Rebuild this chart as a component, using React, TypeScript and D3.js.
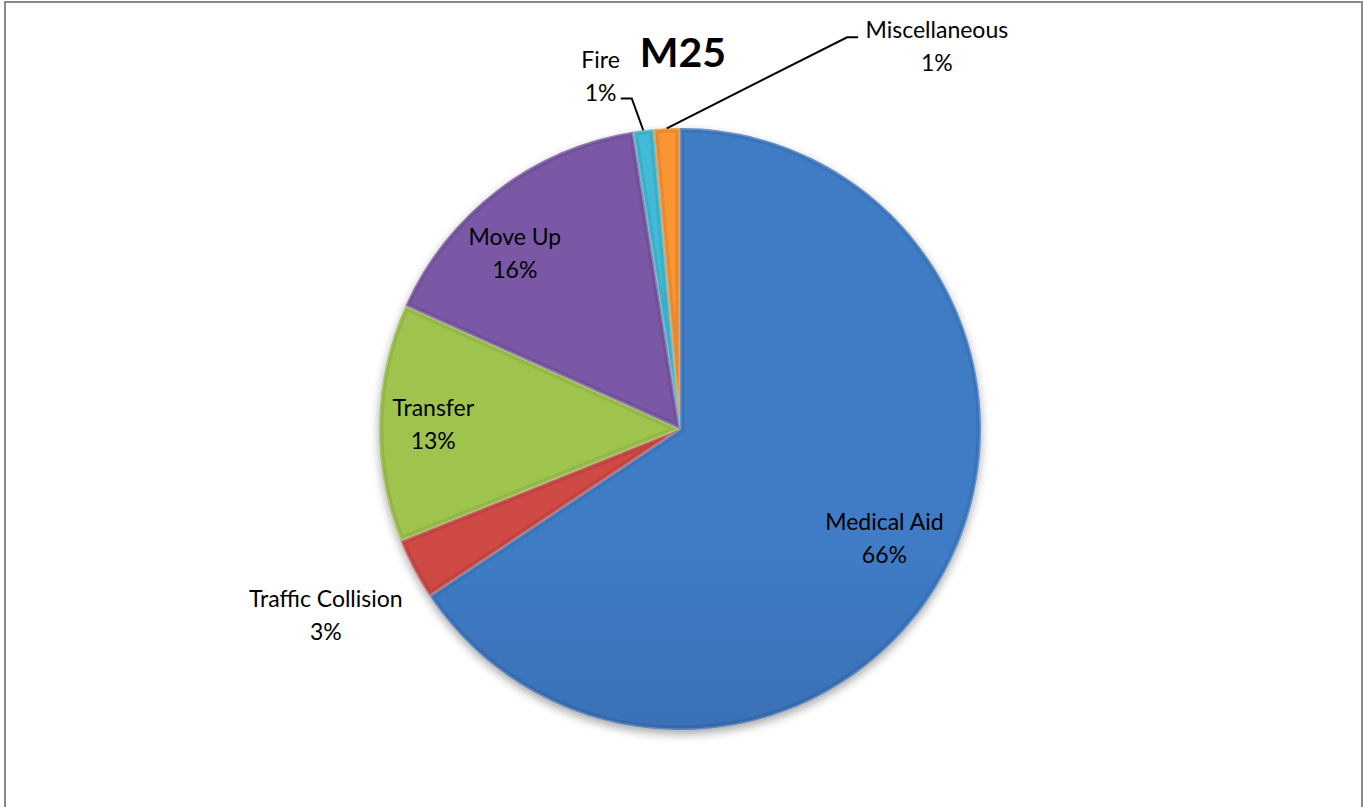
import React from 'react';
import * as d3 from 'd3';

// call types for unit M25
const categories = ['Medical Aid', 'Traffic Collision', 'Transfer', 'Move Up', 'Fire', 'Miscellaneous'];
const shares = [65.7, 3.3, 12.8, 15.8, 1.1, 1.4];
const title = 'M25';

// light / dark shade per slice (Excel office theme with 3D bevel)
const lightColors = ['#3f7bc6', '#cf4944', '#9fc44e', '#7a58a6', '#43bcd6', '#f99530'];
const darkColors = ['#2c578f', '#ad3632', '#84a93a', '#5e4384', '#2898b2', '#e97c18'];

const W = 1363;
const H = 807;
const cx = 680;
const cy = 429;
const R = 301;
const FONT = 'Lato, "Open Sans", sans-serif';
const FONT_SIZE = 23;
const LINE_GAP = 33;

// label placement in polar terms (degrees clockwise from 12 o'clock, radius as share of R)
type LabelPlace = { angle: number | null; r: number; leader?: { angle: number; r: number; tail: number } };
const labelPlaces: LabelPlace[] = [
  { angle: null, r: 0.77 },
  { angle: null, r: 1.33 },
  { angle: null, r: 0.82 },
  { angle: 316.7, r: 0.8 },
  { angle: 347.3, r: 1.2, leader: { angle: 351.7, r: 1.11, tail: -11 } },
  { angle: 33.9, r: 1.53, leader: { angle: 23.1, r: 1.415, tail: 11 } },
];

const polar = (deg: number, r: number): [number, number] => {
  const a = (deg * Math.PI) / 180;
  return [cx + r * Math.sin(a), cy - r * Math.cos(a)];
};

export default function App() {
  const pie = d3.pie<number>().sort(null).value((d) => d);
  const arcs = pie(shares);
  const arc = d3.arc<d3.PieArcDatum<number>>().innerRadius(0).outerRadius(R);

  return (
    <svg width={W} height={H} style={{ position: 'absolute', left: 0, top: 0, background: '#fff' }}>
      <defs>
        {categories.map((c, i) => (
          <linearGradient key={c} id={`g${i}`} gradientUnits="userSpaceOnUse" x1={cx} y1={cy - R} x2={cx} y2={cy + R}>
            <stop offset="0%" stopColor={lightColors[i]} />
            <stop offset="100%" stopColor={darkColors[i]} />
          </linearGradient>
        ))}
        {arcs.map((a, i) => (
          <clipPath key={i} id={`c${i}`}>
            <path d={arc(a) || ''} transform={`translate(${cx},${cy})`} />
          </clipPath>
        ))}
        <filter id="shadow" x="-20%" y="-20%" width="140%" height="140%">
          <feDropShadow dx="0" dy="4" stdDeviation="5" floodColor="#000" floodOpacity="0.35" />
        </filter>
      </defs>

      <rect x={5} y={2} width={1357} height={H + 20} fill="none" stroke="#898989" strokeWidth={2} />

      <g filter="url(#shadow)">
        {arcs.map((a, i) => (
          <path key={i} d={arc(a) || ''} transform={`translate(${cx},${cy})`} fill={`url(#g${i})`} />
        ))}
      </g>
      {/* bevel: soft dark inner rim plus light edge */}
      {arcs.map((a, i) => (
        <g key={i} clipPath={`url(#c${i})`}>
          <path d={arc(a) || ''} transform={`translate(${cx},${cy})`} fill="none" stroke="#000" strokeOpacity={0.07} strokeWidth={9} />
          <path d={arc(a) || ''} transform={`translate(${cx},${cy})`} fill="none" stroke="#fff" strokeOpacity={0.22} strokeWidth={3} />
        </g>
      ))}

      {arcs.map((a, i) => {
        const place = labelPlaces[i];
        const mid = ((a.startAngle + a.endAngle) / 2) * (180 / Math.PI);
        const [lx, ly] = polar(place.angle ?? mid, place.r * R);
        const pct = `${Math.round(shares[i])}%`;
        let leader = null;
        if (place.leader) {
          const p0 = polar(mid, R);
          const p1 = polar(place.leader.angle, place.leader.r * R);
          const p2: [number, number] = [p1[0] + place.leader.tail, p1[1]];
          leader = <polyline points={[p0, p1, p2].map((p) => p.join(',')).join(' ')} fill="none" stroke="#000" strokeWidth={2} />;
        }
        return (
          <g key={categories[i]}>
            {leader}
            <text x={lx} y={ly - LINE_GAP / 2} dy="0.35em" textAnchor="middle" fontFamily={FONT} fontSize={FONT_SIZE} fill="#000">
              {categories[i]}
            </text>
            <text x={lx} y={ly + LINE_GAP / 2} dy="0.35em" textAnchor="middle" fontFamily={FONT} fontSize={FONT_SIZE} fill="#000">
              {pct}
            </text>
          </g>
        );
      })}

      <text x={683} y={67} textAnchor="middle" fontFamily={FONT} fontWeight="bold" fontSize={41} fill="#000">
        {title}
      </text>
    </svg>
  );
}
